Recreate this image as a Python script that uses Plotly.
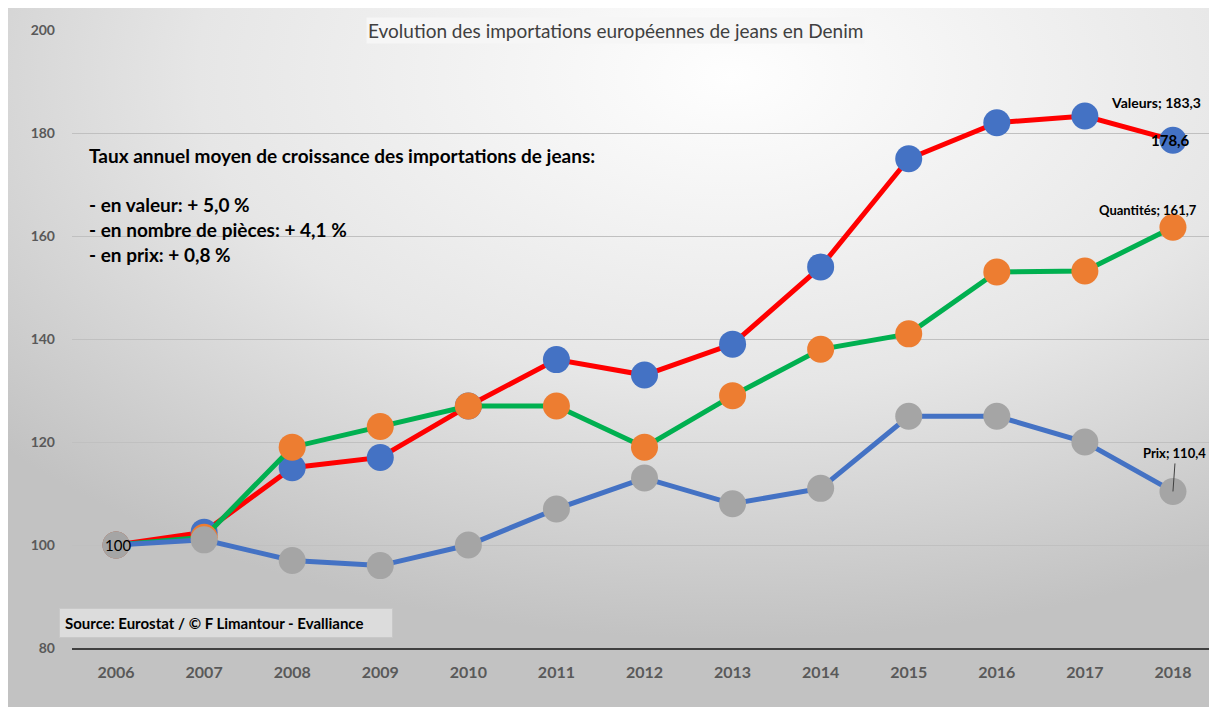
import base64
import plotly.graph_objects as go

# Indices base 100 en 2006
annees = ["2006", "2007", "2008", "2009", "2010", "2011", "2012",
          "2013", "2014", "2015", "2016", "2017", "2018"]
valeurs = [100, 102.5, 115, 117, 127, 136, 133, 139, 154, 175, 182, 183.3, 178.6]
quantites = [100, 101.5, 119, 123, 127, 127, 119, 129, 138, 141, 153, 153.2, 161.7]
prix = [100, 101, 97, 96, 100, 107, 113, 108, 111, 125, 125, 120, 110.4]

titre = "Evolution des importations européennes de jeans en Denim"
texte_taux = ("Taux annuel moyen de croissance des importations de jeans:<br><br>"
              "- en valeur: + 5,0 %<br>"
              "- en nombre de pièces: + 4,1 %<br>"
              "- en prix: + 0,8 %")
source = "Source: Eurostat / © F Limantour - Evalliance"

FONT = "Lato"
last = len(annees) - 1  # index de catégorie de 2018


def fr(v):
    return str(v).replace(".", ",")


# fond en dégradé (comme le graphique Excel d'origine)
svg = ('<svg xmlns="http://www.w3.org/2000/svg" width="1217" height="707">'
       '<defs><radialGradient id="g" cx="0.6" cy="0.1" r="0.8">'
       '<stop offset="0" stop-color="#fefefe"/>'
       '<stop offset="0.55" stop-color="#e6e6e6"/>'
       '<stop offset="1" stop-color="#c2c2c2"/>'
       '</radialGradient></defs>'
       '<rect width="100%" height="100%" fill="url(#g)"/></svg>')
fond = "data:image/svg+xml;base64," + base64.b64encode(svg.encode()).decode()

fig = go.Figure()

fig.add_trace(go.Scatter(
    x=annees, y=valeurs, mode="lines+markers", name="Valeurs",
    line=dict(color="#FF0000", width=5),
    marker=dict(color="#4472C4", size=27)))
fig.add_trace(go.Scatter(
    x=annees, y=quantites, mode="lines+markers", name="Quantités",
    line=dict(color="#00B050", width=5),
    marker=dict(color="#ED7D31", size=27)))
fig.add_trace(go.Scatter(
    x=annees, y=prix, mode="lines+markers", name="Prix",
    line=dict(color="#4472C4", width=5),
    marker=dict(color="#A5A5A5", size=27)))

annots = [
    dict(text=titre, xref="paper", yref="y", x=0.475, y=200, showarrow=False,
         font=dict(size=19, color="#404040"), bgcolor="#f6f6f6", xanchor="center"),
    dict(text="<b>" + texte_taux + "</b>", xref="paper", yref="paper", x=0.013, y=0.818,
         showarrow=False, align="left", xanchor="left", yanchor="top",
         font=dict(size=19, color="#000000")),
    dict(text="<b>Valeurs; %s</b>" % fr(valeurs[11]), xref="x", yref="y", x=last, y=valeurs[11],
         showarrow=False, xshift=-17, yshift=14, font=dict(size=14, color="#000000")),
    dict(text="<b>%s</b>" % fr(valeurs[12]), xref="x", yref="y", x=last, y=valeurs[12],
         showarrow=False, xshift=-2, yshift=0, font=dict(size=15, color="#000000")),
    dict(text="<b>Quantités; %s</b>" % fr(quantites[12]), xref="x", yref="y", x=last, y=quantites[12],
         showarrow=False, xshift=-25, yshift=17, font=dict(size=13, color="#000000")),
    dict(text="<b>Prix; %s</b>" % fr(prix[12]), xref="x", yref="y", x=last, y=prix[12],
         showarrow=True, arrowhead=0, arrowwidth=1, arrowcolor="#404040", standoff=0,
         ax=2, ay=-28, yanchor="bottom", xanchor="center",
         font=dict(size=13, color="#000000")),
    dict(text="%d" % prix[0], xref="x", yref="y", x=0, y=prix[0], showarrow=False, xshift=2,
         font=dict(size=15, color="#000000")),
    dict(text="<b>" + source + "</b>" + "&nbsp;" * 6, xref="paper", yref="paper", x=-0.011, y=0.04,
         showarrow=False, xanchor="left", yanchor="middle", font=dict(size=15, color="#000000"),
         bgcolor="#dcdcdc", bordercolor="#c8c8c8", borderwidth=1, borderpad=5),
]

# la page HTML décale la figure de 8 px : on compense
fig.update_layout(
    width=1209, height=699,
    margin=dict(l=64, r=0, t=22, b=59),
    font=dict(family=FONT),
    showlegend=False,
    paper_bgcolor="#dedede",
    plot_bgcolor="rgba(0,0,0,0)",
    images=[dict(source=fond, xref="paper", yref="paper", x=-0.06, y=1.04,
                 sizex=1.06, sizey=1.14, sizing="stretch", layer="below",
                 xanchor="left", yanchor="top")],
    annotations=annots,
)
fig.update_xaxes(type="category", range=[-0.5, 12.5], showgrid=False,
                 showline=True, linecolor="#404040", linewidth=2,
                 tickfont=dict(size=16, color="#595959"),
                 ticks="", ticklabelstandoff=9,
                 tickprefix="<b>", ticksuffix="</b>")
fig.update_yaxes(range=[80, 200], dtick=20, showgrid=True, gridcolor="#c0c0c0",
                 gridwidth=1, zeroline=False, ticks="",
                 tickfont=dict(size=14, color="#595959"), ticklabelstandoff=16,
                 tickprefix="<b>", ticksuffix="</b>")

fig.write_html("out.html")
